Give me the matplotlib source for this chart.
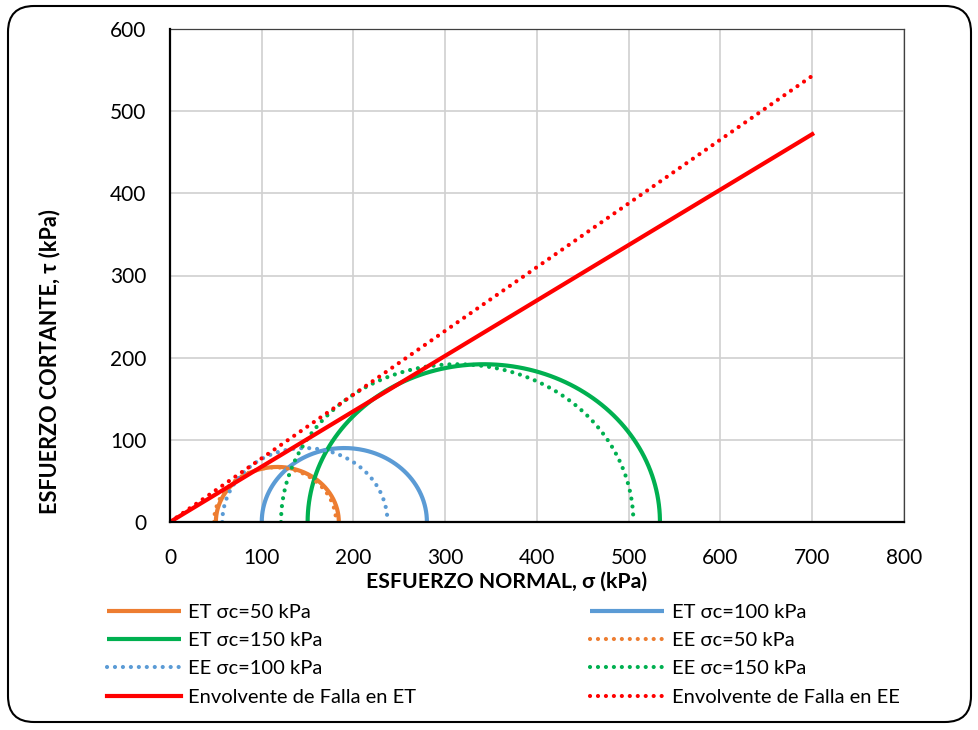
import numpy as np
import matplotlib
matplotlib.use("Agg")
import matplotlib.pyplot as plt
from matplotlib.patches import FancyBboxPatch
from matplotlib.transforms import IdentityTransform

plt.rcParams['font.family'] = ['Lato', 'DejaVu Sans']

# Mohr circles: minor and major principal stresses (kPa)
et_labels = ["ET σc=50 kPa", "ET σc=100 kPa", "ET σc=150 kPa"]
et_sigma3 = [50, 100, 150]
et_sigma1 = [184, 280, 534]

ee_labels = ["EE σc=50 kPa", "EE σc=100 kPa", "EE σc=150 kPa"]
ee_sigma3 = [48, 57, 121]
ee_sigma1 = [181, 237, 505]

circle_colors = ["#ED7D31", "#5B9BD5", "#00B050"]

# Failure envelopes (σ, τ) end points
env_et_sigma = [0, 700]
env_et_tau = [0, 472]
env_ee_sigma = [0, 700]
env_ee_tau = [0, 543]

x_ticks = [0, 100, 200, 300, 400, 500, 600, 700, 800]
y_ticks = [0, 100, 200, 300, 400, 500, 600]

W, H = 979, 730
fig = plt.figure(figsize=(W / 100, H / 100), dpi=100)
ax = fig.add_axes([170 / W, 1 - 522 / H, (904 - 170) / W, (522 - 29) / H])

def semicircle(s3, s1):
    c = (s3 + s1) / 2.0
    r = (s1 - s3) / 2.0
    t = np.linspace(np.pi, 0, 200)
    return c + r * np.cos(t), r * np.sin(t)

LW = 3.0
handles = {}
for lab, s3, s1, col in zip(et_labels, et_sigma3, et_sigma1, circle_colors):
    x, y = semicircle(s3, s1)
    handles[lab], = ax.plot(x, y, color=col, lw=LW, solid_capstyle='butt', label=lab, zorder=3)

dot = (0, (0.01, 1.9))
for lab, s3, s1, col in zip(ee_labels, ee_sigma3, ee_sigma1, circle_colors):
    x, y = semicircle(s3, s1)
    handles[lab], = ax.plot(x, y, color=col, lw=LW, linestyle=dot, dash_capstyle='round',
                            label=lab, zorder=3)

handles["ET env"], = ax.plot(env_et_sigma, env_et_tau, color="#FF0000", lw=LW,
                             label="Envolvente de Falla en ET", zorder=4)
handles["EE env"], = ax.plot(env_ee_sigma, env_ee_tau, color="#FF0000", lw=LW, linestyle=dot,
                             dash_capstyle='round', label="Envolvente de Falla en EE", zorder=4)

ax.set_xlim(0, 800)
ax.set_ylim(0, 600)
ax.set_xticks(x_ticks)
ax.set_yticks(y_ticks)
ax.tick_params(axis='both', length=0, labelsize=15, colors='black')
ax.tick_params(axis='x', pad=19)
ax.tick_params(axis='y', pad=17)
ax.grid(True, color="#D0D0D0", lw=1.2)
ax.set_axisbelow(True)
for side in ['left', 'bottom']:
    ax.spines[side].set_color('black')
    ax.spines[side].set_linewidth(1.6)
for side in ['top', 'right']:
    ax.spines[side].set_color('#404040')
    ax.spines[side].set_linewidth(0.9)
ax.spines['left'].set_zorder(5)
ax.spines['bottom'].set_zorder(5)

fig.text(507 / W, 1 - 582 / H, "ESFUERZO NORMAL, σ (kPa)", ha='center', va='center',
         fontsize=15.3, fontweight='bold')
fig.text(50 / W, 1 - 362 / H, "ESFUERZO CORTANTE, τ (kPa)", ha='center', va='center',
         fontsize=15.6, fontweight='bold', rotation=90)

# Legend entries listed column by column (two columns)
order = ["ET σc=50 kPa", "ET σc=150 kPa", "EE σc=100 kPa", "ET env",
         "ET σc=100 kPa", "EE σc=50 kPa", "EE σc=150 kPa", "EE env"]
hs = [handles[k] for k in order]
leg = fig.legend(hs, [h.get_label() for h in hs], ncol=2, loc='upper left',
                 bbox_to_anchor=(107 / W, 1 - 603.5 / H), frameon=False, fontsize=14.5,
                 handlelength=3.68, handletextpad=0.35, columnspacing=8.65,
                 labelspacing=0.56, borderaxespad=0, borderpad=0)

# Rounded chart border
border = FancyBboxPatch((8, H - 722), 963, 716, boxstyle="round,pad=0,rounding_size=26",
                        transform=IdentityTransform(), fill=False, edgecolor='black',
                        lw=1.5, figure=fig)
fig.add_artist(border)

fig.savefig("out.png", dpi=100)
